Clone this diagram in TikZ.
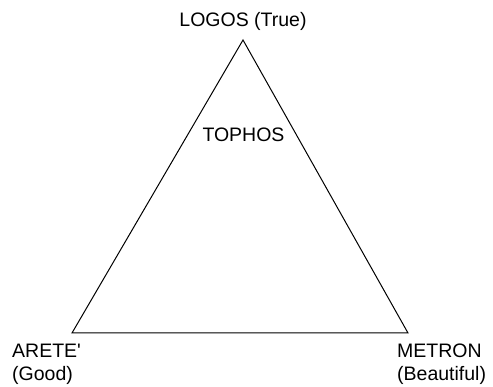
\documentclass[tikz,border=0pt]{standalone}
\usepackage{fontspec}
\setmainfont{Liberation Sans}
\begin{document}
\begin{tikzpicture}[x=1pt,y=-1pt,
  lbl/.style={inner sep=0pt,font=\fontsize{19.5}{23}\selectfont}]
\useasboundingbox (0,0) rectangle (493,387);

\coordinate (logos) at (243,40);
\coordinate (arete) at (72,333);
\coordinate (metron) at (408,333);
\draw[line width=1pt,line join=miter] (logos) -- (arete) -- (metron) -- cycle;

\node[lbl,anchor=base] (top) at (243,27) {LOGOS (True)};
\node[lbl,anchor=base] (tophos) at (243.5,142) {TOPHOS};
\node[lbl,anchor=north west,align=left] (good) at (12,344) {ARETE\textquotesingle\\(Good)};
\node[lbl,anchor=north west,align=left] (beauty) at (397,344) {METRON\\(Beautiful)};
\end{tikzpicture}
\end{document}
